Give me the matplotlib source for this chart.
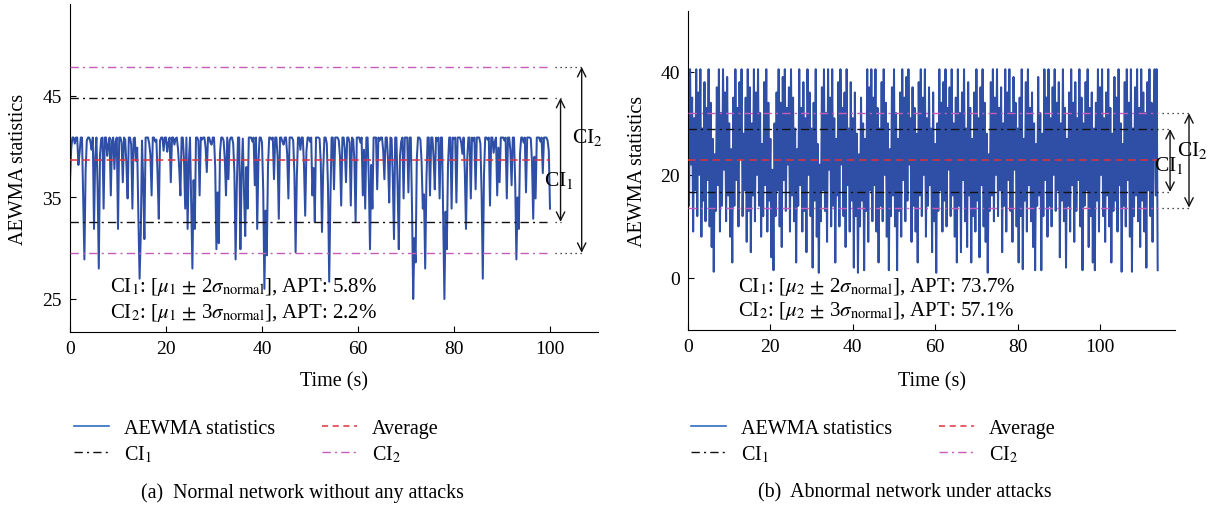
import matplotlib
matplotlib.use('Agg')
import matplotlib.pyplot as plt
from matplotlib.lines import Line2D
import numpy as np

plt.rcParams['font.family'] = ['Liberation Serif', 'DejaVu Serif']
plt.rcParams['mathtext.fontset'] = 'stix'

# ---------------- data ----------------
dt = 0.25  # seconds between samples

normal_values = [
    36.5, 39.8, 40.9, 40.9, 40.3, 40.9, 40.9, 38.2, 39.4, 40.9, 40.9, 35.1, 28.9, 37.6, 40.6, 40.9, 40.9, 40.5, 39.7, 40.9,
    31.9, 38.9, 40.9, 36.0, 28.0, 39.2, 40.8, 40.9, 33.9, 40.9, 40.9, 39.1, 40.2, 40.9, 35.2, 40.6, 40.9, 37.8, 40.5, 40.9,
    31.9, 40.9, 40.9, 40.4, 36.5, 40.9, 40.7, 38.3, 34.9, 40.9, 40.9, 40.2, 33.9, 40.8, 40.9, 38.6, 39.9, 33.0, 27.0, 31.5,
    40.6, 36.4, 30.9, 40.9, 40.9, 40.9, 40.3, 39.2, 35.2, 40.9, 40.9, 40.5, 40.7, 37.1, 32.9, 40.6, 40.9, 40.9, 39.6, 40.9,
    40.9, 39.5, 40.4, 40.9, 36.5, 40.9, 40.9, 40.2, 40.8, 40.9, 39.8, 37.9, 35.2, 40.9, 40.9, 38.7, 33.9, 40.9, 31.9, 38.4,
    40.9, 34.3, 28.0, 36.7, 31.9, 40.9, 40.9, 40.6, 35.2, 40.9, 40.7, 40.9, 40.9, 39.9, 37.5, 40.9, 40.9, 40.4, 40.2, 40.9,
    40.9, 38.0, 29.9, 35.5, 30.5, 39.4, 40.9, 40.9, 40.6, 38.8, 35.2, 40.9, 36.8, 40.6, 40.9, 40.9, 40.3, 37.4, 28.9, 36.0,
    40.9, 40.9, 29.9, 37.2, 40.8, 35.6, 31.2, 38.0, 33.9, 40.9, 40.9, 40.9, 40.5, 40.9, 36.2, 40.9, 31.9, 38.5, 40.9, 40.9,
    40.4, 35.8, 26.0, 33.7, 29.3, 38.1, 40.9, 40.9, 40.7, 40.9, 36.8, 40.9, 40.9, 39.0, 32.9, 40.9, 40.9, 40.5, 40.2, 40.9,
    40.9, 39.2, 34.9, 40.9, 40.9, 40.9, 40.6, 37.3, 29.6, 36.9, 40.9, 40.9, 39.7, 40.9, 40.9, 38.1, 33.2, 39.5, 40.9, 40.9,
    40.5, 40.9, 35.2, 37.9, 32.6, 40.9, 40.9, 40.9, 40.8, 38.3, 31.6, 37.7, 40.9, 40.9, 40.3, 36.0, 26.7, 34.8, 40.9, 40.9,
    35.8, 40.9, 40.9, 40.9, 40.6, 39.0, 34.2, 40.9, 40.9, 39.8, 36.5, 40.9, 40.9, 40.4, 34.2, 40.9, 40.7, 38.6, 32.6, 40.9,
    40.9, 40.9, 40.4, 40.9, 35.2, 39.7, 33.9, 40.9, 40.9, 36.8, 29.9, 38.2, 33.9, 40.9, 40.9, 40.9, 35.8, 40.9, 40.6, 40.9,
    40.9, 39.6, 36.8, 40.9, 40.9, 38.8, 34.5, 40.9, 40.8, 36.9, 30.9, 40.9, 40.9, 36.1, 29.9, 39.1, 40.5, 40.9, 34.9, 40.9,
    40.9, 40.9, 35.5, 40.9, 40.9, 34.1, 25.0, 31.0, 28.6, 38.8, 40.9, 40.9, 40.7, 38.5, 33.9, 35.3, 28.0, 36.6, 40.9, 40.9,
    35.2, 40.9, 40.9, 38.9, 35.8, 40.9, 40.6, 40.9, 34.9, 40.9, 40.9, 33.3, 25.0, 33.6, 29.9, 38.2, 40.9, 40.9, 33.9, 40.9,
    40.8, 40.9, 34.5, 40.9, 40.9, 40.9, 40.4, 39.3, 40.9, 37.6, 31.9, 38.7, 40.9, 40.9, 34.9, 40.9, 40.6, 40.9, 35.8, 40.9,
    40.9, 40.9, 40.3, 35.4, 27.0, 37.3, 40.9, 40.9, 40.7, 40.9, 34.2, 40.9, 40.9, 39.4, 40.5, 40.9, 35.2, 39.9, 36.5, 40.9,
    40.9, 40.9, 40.6, 40.9, 34.9, 40.9, 40.9, 39.6, 36.2, 40.9, 40.9, 36.4, 28.9, 35.0, 31.9, 39.3, 40.9, 40.9, 40.4, 40.9,
    35.5, 40.9, 40.9, 40.9, 40.8, 38.5, 32.9, 39.0, 34.9, 40.9, 40.9, 40.9, 40.5, 40.9, 37.4, 40.9, 40.9, 40.9, 40.6, 39.6,
    33.9,
]

attack_values = [
    38, 14, 40.5, 22, 35, 9, 31, 17, 40.5, 12, 36, 20, 40.5, 8, 29, 15, 38, 11, 33, 19,
    40.5, 10, 34, 6, 27, 1.2, 24, 13, 37, 18, 40.5, 9, 32, 14, 40.5, 21, 36, 11, 39, 16,
    30, 8, 25, 3, 35, 14, 40.5, 19, 33, 10, 38, 23, 40.5, 12, 28, 17, 35, 7, 40.5, 13,
    37, 5, 30, 16, 40.5, 11, 36, 20, 40.5, 14, 32, 8, 26, 12, 38, 18, 40.5, 9, 34, 15,
    27, 4, 21, 1.5, 30, 12, 36, 17, 40.5, 10, 34, 6, 39, 19, 40.5, 13, 33, 22, 37, 9,
    40.5, 16, 35, 11, 29, 3, 25, 14, 40.5, 18, 33, 9, 38, 13, 31, 5, 40.5, 20, 36, 12,
    29, 2, 34, 15, 40.5, 8, 26, 1, 22, 11, 37, 17, 40.5, 13, 32, 7, 40.5, 21, 35, 10,
    40.5, 14, 31, 3, 27, 16, 38, 10, 40.5, 22, 33, 12, 36, 6, 40.5, 18, 29, 9, 38, 15,
    31, 2, 36, 12, 28, 1, 24, 10, 35, 15, 30, 1.5, 27, 13, 40.5, 7, 37, 17, 40.5, 11,
    35, 18, 40.5, 9, 33, 3, 29, 14, 38, 11, 40.5, 20, 34, 8, 30, 1.5, 25, 12, 37, 16,
    40.5, 10, 32, 1.5, 27, 13, 36, 8, 40.5, 19, 35, 11, 39, 15, 40.5, 22, 31, 7, 37, 14,
    33, 9, 28, 3, 38, 16, 40.5, 12, 35, 20, 40.5, 8, 31, 14, 37, 18, 29, 5, 36, 11,
    26, 1, 30, 13, 40.5, 17, 34, 9, 38, 15, 40.5, 10, 33, 21, 37, 12, 40.5, 16, 30, 8,
    35, 3, 40.5, 14, 32, 5, 36, 19, 40.5, 11, 29, 6, 38, 16, 33, 3, 27, 12, 36, 9,
    40.5, 15, 31, 4, 37, 18, 40.5, 10, 34, 7, 28, 1, 24, 13, 38, 16, 40.5, 11, 35, 20,
    40.5, 12, 33, 17, 37, 5, 30, 14, 40.5, 9, 36, 19, 40.5, 13, 32, 7, 39, 21, 34, 10,
    29, 3, 35, 12, 40.5, 1.7, 27, 15, 38, 9, 40.5, 18, 33, 11, 36, 6, 30, 1.5, 26, 14,
    39, 16, 32, 1.5, 28, 12, 40.5, 19, 35, 8, 40.5, 14, 31, 10, 37, 20, 40.5, 13, 34, 17,
    38, 4, 30, 15, 40.5, 11, 33, 2, 27, 14, 36, 9, 40.5, 18, 34, 7, 38, 13, 31, 19,
    40.5, 10, 35, 1.5, 30, 14, 38, 17, 40.5, 6, 33, 12, 36, 3, 29, 1.5, 34, 15, 40.5, 9,
    37, 20, 40.5, 12, 31, 7, 36, 16, 40.5, 10, 33, 3, 28, 13, 39, 15, 35, 9, 40.5, 18,
    30, 1.2, 26, 14, 38, 10, 40.5, 19, 34, 8, 40.5, 1.2, 29, 12, 37, 16, 40.5, 11, 33, 6,
    40.5, 15, 36, 9, 32, 2, 38, 17, 40.5, 12, 34, 7, 30, 40.5, 16, 40.5, 1.5,
]

normal_mean = 38.7
attack_mean = 22.8
sigma_normal = 3.05

normal_time = np.arange(len(normal_values)) * dt
attack_time = np.arange(len(attack_values)) * dt

legend_labels = ['AEWMA statistics', 'Average', r'CI$_1$', r'CI$_2$']
captions = ['(a)  Normal network without any attacks', '(b)  Abnormal network under attacks']
ci_texts_a = [r'CI$_1$: [$\mu_1$ $\pm$ 2$\sigma_{\mathrm{normal}}$], APT: 5.8%',
              r'CI$_2$: [$\mu_1$ $\pm$ 3$\sigma_{\mathrm{normal}}$], APT: 2.2%']
ci_texts_b = [r'CI$_1$: [$\mu_2$ $\pm$ 2$\sigma_{\mathrm{normal}}$], APT: 73.7%',
              r'CI$_2$: [$\mu_2$ $\pm$ 3$\sigma_{\mathrm{normal}}$], APT: 57.1%']

# ---------------- style ----------------
BLUE = '#2f4fa6'
RED = '#e0323c'
MAG = '#c45cb8'
BLACK = '#111111'
FS = 14.5

W, H = 1214, 510
fig = plt.figure(figsize=(W / 100, H / 100), dpi=100)


def px_axes(l, r, t, b):
    return fig.add_axes([l / W, 1 - b / H, (r - l) / W, (b - t) / H])


ax1 = px_axes(70, 598, 5, 333)
ax2 = px_axes(688, 1175, 12, 331)


def draw_panel(ax, t, v, mean, xlim, ylim, yticks, ci1_x, ci2_x, texts, text_y,
               ci1_lbl, ci2_lbl, ylab_x, xlab_y):
    tend = t[-1]
    ax.plot(t, v, color=BLUE, lw=1.45, zorder=2)
    ax.plot([0, tend], [mean, mean], color=RED, lw=1.1, dashes=(5, 3), zorder=3)
    for k in (-2, 2):
        ax.plot([0, tend], [mean + k * sigma_normal] * 2, color=BLACK, lw=1.0,
                dashes=(6, 3, 1.5, 3), zorder=3)
    for k in (-3, 3):
        ax.plot([0, tend], [mean + k * sigma_normal] * 2, color=MAG, lw=1.0,
                dashes=(6, 3, 1.5, 3), zorder=3)
    for k, xa in ((2, ci1_x), (3, ci2_x)):
        for s in (-1, 1):
            yv = mean + s * k * sigma_normal
            ax.plot([tend + 1, xa], [yv, yv], color=BLACK, lw=0.9, ls=(0, (1, 3)),
                    clip_on=False)
        ax.annotate('', xy=(xa, mean + k * sigma_normal), xytext=(xa, mean - k * sigma_normal),
                    arrowprops=dict(arrowstyle='<->', color=BLACK, lw=1.0,
                                    shrinkA=0, shrinkB=0, mutation_scale=15),
                    annotation_clip=False)
    ax.text(ci1_lbl[0], ci1_lbl[1], r'CI$_1$', fontsize=15.5, ha='center', va='center')
    ax.text(ci2_lbl[0], ci2_lbl[1], r'CI$_2$', fontsize=15.5, ha='center', va='center')

    ax.text(texts[0], text_y[0], texts[1], fontsize=15, ha='left', va='center')
    ax.text(texts[0], text_y[1], texts[2], fontsize=15, ha='left', va='center')

    ax.set_xlim(*xlim)
    ax.set_ylim(*ylim)
    ax.set_xticks([0, 20, 40, 60, 80, 100])
    ax.set_yticks(yticks)
    ax.spines['top'].set_visible(False)
    ax.spines['right'].set_visible(False)
    ax.tick_params(direction='in', length=4, labelsize=14, width=0.8, pad=6)
    ax.set_xlabel('Time (s)', fontsize=FS)
    ax.set_ylabel('AEWMA statistics', fontsize=FS)
    ax.yaxis.set_label_coords(ylab_x, 0.5)
    ax.yaxis.label.set_va('center')
    ax.xaxis.set_label_coords(0.5, xlab_y)
    ax.xaxis.label.set_va('center')


draw_panel(ax1, normal_time, normal_values, normal_mean, (0, 110), (21.75, 54.05),
           [25, 35, 45], 102.2, 106.6, (8.3, ci_texts_a[0], ci_texts_a[1]),
           (26.3, 23.7), (101.8, 36.8), (107.8, 41.0), (19 - 70) / 528, (333 - 382) / 328)
draw_panel(ax2, attack_time, attack_values, attack_mean, (0, 118.2), (-10.1, 51.8),
           [0, 20, 40], 117.0, 121.6, (12.1, ci_texts_b[0], ci_texts_b[1]),
           (-1.55, -6.2), (116.7, 22.0), (122.5, 25.0), (638 - 688) / 487, (331 - 382) / 319)

# legends
handles = [Line2D([], [], color='#2f6cc4', lw=1.2),
           Line2D([], [], color=BLACK, lw=1.0, dashes=(6, 3, 1.5, 3)),
           Line2D([], [], color=RED, lw=1.1, dashes=(4, 3)),
           Line2D([], [], color=MAG, lw=1.0, dashes=(6, 3, 1.5, 3))]
labels = [legend_labels[0], legend_labels[2], legend_labels[1], legend_labels[3]]
for xl in (74, 691):
    fig.legend(handles, labels, loc='upper left', bbox_to_anchor=(xl / W, 1 - 420 / H),
               ncol=2, frameon=False, fontsize=FS, handlelength=1.75, handletextpad=0.75,
               columnspacing=2.3, labelspacing=0.25, borderpad=0, borderaxespad=0)

fig.text(302 / W, 1 - 493 / H, captions[0], ha='center', va='center', fontsize=14.3)
fig.text(905 / W, 1 - 493 / H, captions[1], ha='center', va='center', fontsize=14.3)

fig.savefig('out.png', dpi=100)
